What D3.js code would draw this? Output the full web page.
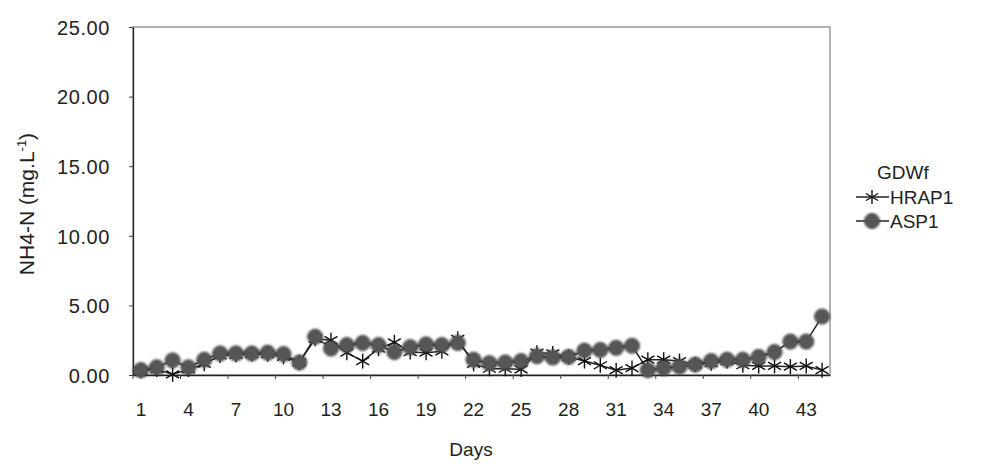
<!DOCTYPE html>
<html>
<head>
<meta charset="utf-8">
<script src="https://cdn.jsdelivr.net/npm/d3@7"></script>
<style>
  html, body { margin: 0; padding: 0; background: #fff; }
  svg { display: block; font-family: "Liberation Sans", Arial, sans-serif; }
</style>
</head>
<body>
<svg id="chart" width="1005" height="466"></svg>
<script>
// Daily NH4-N concentrations, GDWf runs
const days = d3.range(1, 45);
const hrap1 = [0.3, 0.4, 0.05, 0.4, 0.8, 1.4, 1.45, 1.5, 1.5, 1.3,
               0.9, 2.6, 2.5, 1.6, 1.0, 1.9, 2.35, 1.65, 1.6, 1.7,
               2.6, 0.8, 0.45, 0.45, 0.4, 1.6, 1.55, 1.3, 1.0, 0.7,
               0.35, 0.5, 1.1, 1.1, 1.0, 0.75, 0.85, 1.0, 0.7, 0.65,
               0.65, 0.6, 0.65, 0.35];
const asp1 = [0.35, 0.55, 1.05, 0.55, 1.1, 1.55, 1.55, 1.55, 1.6, 1.5,
              0.9, 2.75, 1.9, 2.15, 2.3, 2.15, 1.65, 2.0, 2.2, 2.15,
              2.3, 1.1, 0.85, 0.9, 1.0, 1.35, 1.25, 1.3, 1.75, 1.8,
              1.95, 2.1, 0.35, 0.5, 0.6, 0.75, 1.0, 1.1, 1.1, 1.3,
              1.65, 2.4, 2.4, 4.2];
const yTicks = [0, 5, 10, 15, 20, 25];
const xTickDays = d3.range(1, 45, 3);
const legendTitle = "GDWf";
const seriesNames = ["HRAP1", "ASP1"];

const svg = d3.select("#chart");
const plot = { left: 133, right: 830, top: 27, bottom: 375 };
const font = "Liberation Sans, Arial, sans-serif";

const x = d3.scaleBand().domain(days).range([plot.left, plot.right]);
const y = d3.scaleLinear().domain([0, 25]).range([plot.bottom, plot.top]);
const cx = d => x(d) + x.bandwidth() / 2;

const defs = svg.append("defs");
defs.append("filter").attr("id", "soft")
  .append("feGaussianBlur").attr("stdDeviation", 0.8);
defs.append("filter").attr("id", "softer")
  .append("feGaussianBlur").attr("stdDeviation", 0.35);

// plot frame
svg.append("rect")
  .attr("x", plot.left).attr("y", plot.top)
  .attr("width", plot.right - plot.left).attr("height", plot.bottom - plot.top)
  .attr("fill", "none").attr("stroke", "#666").attr("stroke-width", 1);

// y axis
const yAxis = svg.append("g")
  .attr("transform", `translate(${plot.left},0)`)
  .call(d3.axisLeft(y).tickValues(yTicks).tickFormat(d3.format(".2f"))
    .tickSizeInner(4).tickSizeOuter(0).tickPadding(19));
yAxis.select(".domain").attr("stroke", "#222").attr("stroke-width", 1.3);
yAxis.selectAll(".tick line").attr("stroke", "#444");
yAxis.selectAll("text").attr("font-size", 20).attr("fill", "#222")
  .attr("font-family", font).attr("dy", "0.36em").attr("letter-spacing", 0.6);

// x axis
const xAxis = svg.append("g")
  .attr("transform", `translate(0,${plot.bottom})`)
  .call(d3.axisBottom(x).tickValues(xTickDays).tickSize(0).tickPadding(28));
xAxis.select(".domain").attr("stroke", "#222").attr("stroke-width", 1.3);
xAxis.selectAll("text").attr("font-size", 19).attr("fill", "#222")
  .attr("font-family", font);
// small category tick marks
svg.append("g").selectAll("line")
  .data(xTickDays)
  .join("line")
  .attr("x1", d => x(d)).attr("x2", d => x(d))
  .attr("y1", plot.bottom).attr("y2", plot.bottom + 4)
  .attr("stroke", "#444");

// axis titles
svg.append("text")
  .attr("x", 471).attr("y", 456)
  .attr("text-anchor", "middle").attr("font-size", 19).attr("fill", "#222")
  .text("Days");

const yt = svg.append("text")
  .attr("transform", "translate(34,204) rotate(-90)")
  .attr("text-anchor", "middle").attr("font-size", 21).attr("fill", "#222");
yt.append("tspan").text("NH4-N (mg.L");
yt.append("tspan").attr("font-size", 13).attr("dy", -8).text("-1");
yt.append("tspan").attr("dy", 8).text(")");

// series lines
const line = d3.line().x((d, i) => cx(days[i])).y(d => y(d));
svg.append("path").datum(hrap1)
  .attr("d", line).attr("fill", "none").attr("stroke", "#222").attr("stroke-width", 1.5);
svg.append("path").datum(asp1)
  .attr("d", line).attr("fill", "none").attr("stroke", "#222").attr("stroke-width", 1.5);

// asterisk marker: three crossing strokes
function asterisk(g, px, py, r) {
  [0, 60, 120].forEach(a => {
    const rad = a * Math.PI / 180;
    g.append("line")
      .attr("x1", px - r * Math.sin(rad)).attr("y1", py - r * Math.cos(rad))
      .attr("x2", px + r * Math.sin(rad)).attr("y2", py + r * Math.cos(rad))
      .attr("stroke", "#111").attr("stroke-width", 1.4);
  });
}

const hMarks = svg.append("g").attr("filter", "url(#softer)");
hrap1.forEach((v, i) => asterisk(hMarks, cx(days[i]), y(v), 7.5));

svg.append("g").attr("filter", "url(#soft)")
  .selectAll("circle")
  .data(asp1)
  .join("circle")
  .attr("cx", (d, i) => cx(days[i]))
  .attr("cy", d => y(d))
  .attr("r", 7.5)
  .attr("fill", "#575757")
  .attr("stroke", "#333")
  .attr("stroke-width", 1);

// legend
const lg = svg.append("g");
lg.append("text").attr("x", 877).attr("y", 179)
  .attr("font-size", 19).attr("fill", "#222").text(legendTitle);
const rowY = [197, 221];
lg.append("line").attr("x1", 856).attr("x2", 889)
  .attr("y1", rowY[0]).attr("y2", rowY[0]).attr("stroke", "#222").attr("stroke-width", 1.5);
asterisk(lg.append("g").attr("filter", "url(#softer)"), 872, rowY[0], 7);
lg.append("line").attr("x1", 856).attr("x2", 889)
  .attr("y1", rowY[1]).attr("y2", rowY[1]).attr("stroke", "#222").attr("stroke-width", 1.5);
lg.append("circle").attr("cx", 872).attr("cy", rowY[1]).attr("r", 7.5)
  .attr("fill", "#575757").attr("stroke", "#333").attr("filter", "url(#soft)");
seriesNames.forEach((n, i) => {
  lg.append("text").attr("x", 890).attr("y", rowY[i] + 7)
    .attr("font-size", 19).attr("fill", "#222").text(n);
});
</script>
</body>
</html>
